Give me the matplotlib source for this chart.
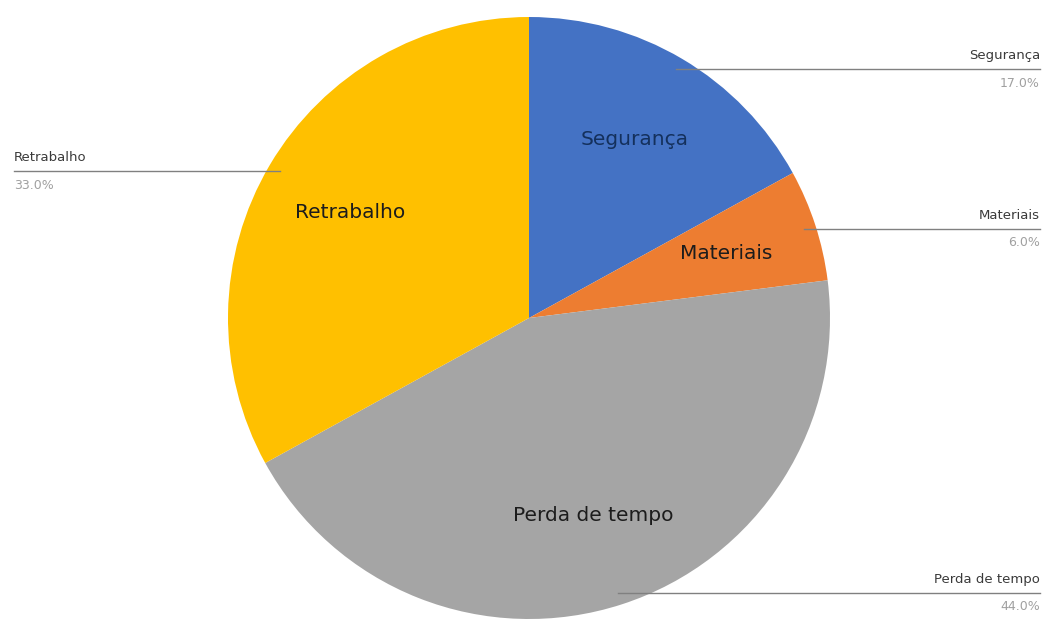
import numpy as np
import matplotlib
matplotlib.use("Agg")
import matplotlib.pyplot as plt
from matplotlib.lines import Line2D

categories = ["Segurança", "Materiais", "Perda de tempo", "Retrabalho"]
values = [17.0, 6.0, 44.0, 33.0]
colors = ["#4472C4", "#ED7D31", "#A5A5A5", "#FFC000"]
pct_labels = ["17.0%", "6.0%", "44.0%", "33.0%"]

W, H = 1047, 619
fig = plt.figure(figsize=(W / 100, H / 100), dpi=100)
fig.patch.set_facecolor("white")

# pie axes: center (529, 318) px, radius 301 px
cx, cy, r = 529, 318, 301
ax = fig.add_axes([(cx - r) / W, (H - cy - r) / H, 2 * r / W, 2 * r / H])

wedges, texts = ax.pie(values, colors=colors, startangle=90, counterclock=False,
                       labels=categories, labeldistance=0.69, radius=1,
                       textprops=dict(fontsize=14.5, color="#1c1c1c", ha="center", va="center"),
                       wedgeprops=dict(linewidth=0))
ax.set_xlim(-1, 1)
ax.set_ylim(-1, 1)
ax.set_aspect("equal")
ax.axis("off")
for t, c in zip(texts, categories):
    t.set_horizontalalignment("center")
    if c == "Segurança":
        t.set_color("#14305c")

# leader lines with outside labels
x_right = (1040 - cx) / r
x_left = (14 - cx) / r
for w, name, pct in zip(wedges, categories, pct_labels):
    mid = np.deg2rad((w.theta1 + w.theta2) / 2)
    px, py = 0.96 * np.cos(mid), 0.96 * np.sin(mid)
    if px >= 0:
        xe, ha = x_right, "right"
    else:
        xe, ha = x_left, "left"
    ax.add_line(Line2D([px, xe], [py, py], color="#808080", lw=1.0, clip_on=False))
    ax.text(xe, py + 0.045, name, ha=ha, va="center", fontsize=9.5,
            color="#3a3a3a", clip_on=False)
    ax.text(xe, py - 0.047, pct, ha=ha, va="center", fontsize=9,
            color="#a0a0a0", clip_on=False)

fig.savefig("out.png", dpi=100, facecolor="white")
